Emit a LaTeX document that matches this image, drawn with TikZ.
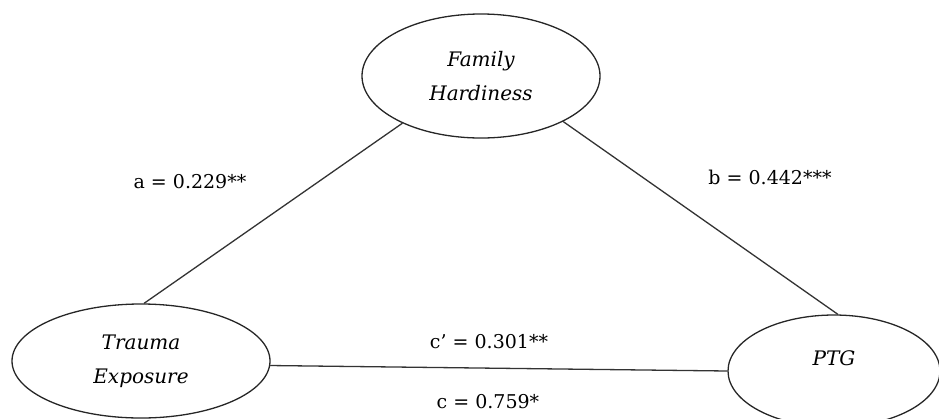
\documentclass[tikz,border=0pt]{standalone}
\usepackage{fontspec}
\setmainfont{DejaVu Serif}
\usetikzlibrary{shapes.geometric}
\begin{document}
\begin{tikzpicture}[x=1pt,y=-1pt,
  latent/.style={draw=black!85,line width=1.3pt,ellipse,inner sep=0pt,align=center,font=\fontsize{20}{34}\selectfont\itshape},
  path/.style={draw=black!80,line width=1.3pt},
  coef/.style={font=\fontsize{19}{22}\selectfont,inner sep=0pt}]
\useasboundingbox (0,0) rectangle (939,418);
\node[latent,minimum width=238pt,minimum height=124pt] (fh) at (481,76) {Family\\Hardiness};
\node[latent,minimum width=258pt,minimum height=114pt] (te) at (141,361) {Trauma\\Exposure};
\node[latent,minimum width=212pt,minimum height=112pt] (ptg) at (834,371) {\raisebox{26pt}{PTG}};
\draw[path] (te.87) -- (fh.211);
\draw[path] (fh.331) -- (ptg.86);
\draw[path] (te.358) -- (ptg.180);
\node[coef] (la) at (190,182) {a = 0.229**};
\node[coef] (lb) at (770,177) {b = 0.442***};
\node[coef] (lc1) at (489,342) {c’ = 0.301**};
\node[coef] (lc) at (488,402) {c = 0.759*};
\end{tikzpicture}
\end{document}
